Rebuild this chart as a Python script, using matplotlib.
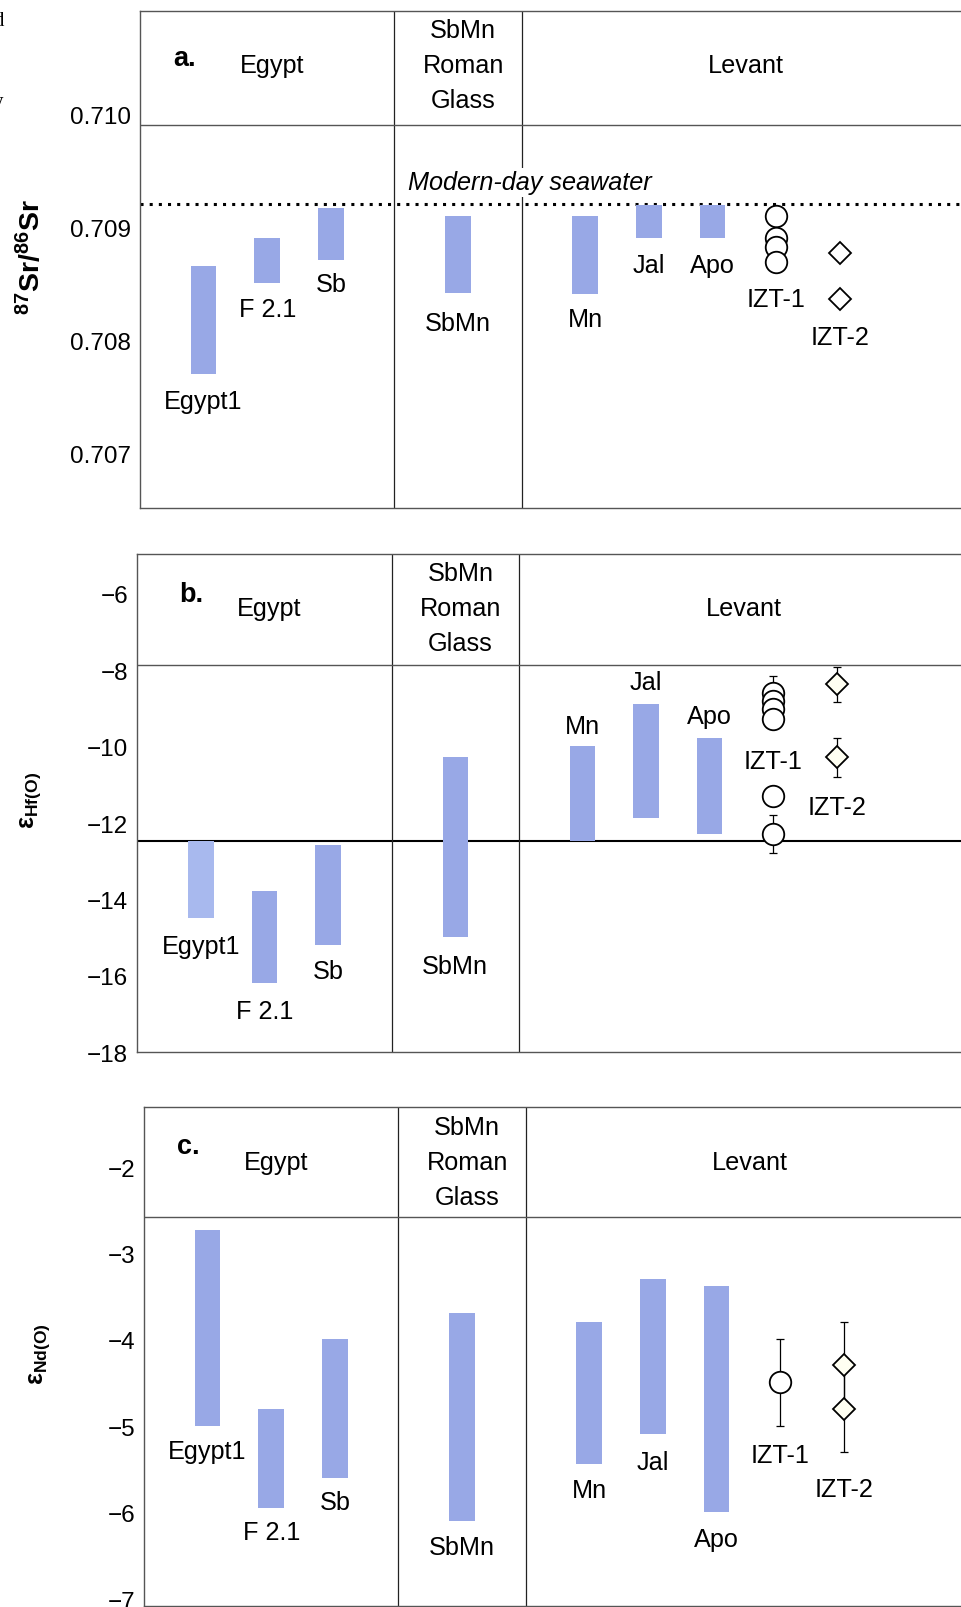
import matplotlib.pyplot as plt
from matplotlib.ticker import FormatStrFormatter

plt.rcParams['font.family'] = ['Liberation Sans', 'DejaVu Sans']
plt.rcParams['mathtext.fontset'] = 'custom'
plt.rcParams['mathtext.rm'] = 'Liberation Sans'
plt.rcParams['mathtext.it'] = 'Liberation Sans:italic'
plt.rcParams['mathtext.bf'] = 'Liberation Sans:bold'

# sample names: seven ranges (bars) + two single-glass series
sample_names = ['Egypt1', 'F 2.1', 'Sb', 'SbMn', 'Mn', 'Jal', 'Apo', 'IZT-1', 'IZT-2']
group_names = ['Egypt', 'SbMn\nRoman\nGlass', 'Levant']

# 87Sr/86Sr ranges
sr_low = [0.70771, 0.70851, 0.70871, 0.70842, 0.70841, 0.70891, 0.70891]
sr_high = [0.70866, 0.70891, 0.70917, 0.70910, 0.70910, 0.70920, 0.70920]
izt1_sr = [0.70910, 0.70891, 0.70883, 0.70869]
izt2_sr = [0.70877, 0.70837]
seawater_sr = 0.70921

# eHf(O) ranges
hf_low = [-14.49, -16.19, -15.19, -14.99, -12.48, -11.87, -12.29]
hf_high = [-12.48, -13.79, -12.58, -10.28, -9.98, -8.87, -9.78]
izt1_hf = [-8.6, -8.8, -9.0, -9.28, -11.28, -12.29]
izt1_hf_err = [0.45, 0, 0, 0, 0, 0.5]
izt2_hf = [-8.37, -10.28]
izt2_hf_err = [0.46, 0.5]
hf_split = -12.48

# eNd(O) ranges
nd_low = [-4.99, -5.94, -5.60, -6.10, -5.44, -5.09, -5.99]
nd_high = [-2.73, -4.80, -3.99, -3.69, -3.79, -3.29, -3.38]
izt1_nd = [-4.49]
izt1_nd_err = [0.5]
izt2_nd = [-4.29, -4.80]
izt2_nd_err = [0.5, 0.5]

# layout
bar_x = [1, 2, 3, 5, 7, 8, 9]
izt1_x, izt2_x = 10, 11
dividers = [4, 6]
group_x = [2.07, 5.08, 9.53]
XMAX = 13.2
BAR_COLOR = '#98a8e6'
FS = 18.2
LINE_STEP = 25.2  # points between header lines

W, H = 962, 1608
fig = plt.figure(figsize=(W / 100, H / 100), dpi=100)


def make_axes(left, top, bottom):
    width = XMAX * 63.6
    ax = fig.add_axes([left / W, 1 - bottom / H, width / W, (bottom - top) / H])
    for s in ['left', 'top', 'bottom']:
        ax.spines[s].set_color('#555555')
        ax.spines[s].set_linewidth(1.0)
    ax.spines['right'].set_visible(False)
    ax.set_xlim(0, XMAX)
    ax.set_xticks([])
    ax.tick_params(axis='y', length=0, pad=6.5, labelsize=17.5)
    return ax


def draw_panel(ax, low, high, izt1, izt1_err, izt2, izt2_err, label_y,
               header_y, group_y, tag, tag_pos, diamond_fc, colors=None):
    for d in dividers:
        ax.axvline(d, color='#222222', lw=0.9, zorder=1)
    ax.axhline(header_y, color='#555555', lw=1.0, zorder=1)

    colors = colors or [BAR_COLOR] * len(bar_x)
    heights = [h - l for l, h in zip(low, high)]
    ax.bar(bar_x, heights, bottom=low, width=0.4, color=colors, zorder=2)

    if izt1_err is not None:
        ax.errorbar([izt1_x] * len(izt1), izt1, yerr=izt1_err, fmt='none',
                    ecolor='black', elinewidth=0.9, capsize=2.6, capthick=0.9, zorder=3)
    ax.plot([izt1_x] * len(izt1), izt1, 'o', ms=15.5, mfc='white', mec='black',
            mew=1.3, zorder=4)
    if izt2_err is not None:
        ax.errorbar([izt2_x] * len(izt2), izt2, yerr=izt2_err, fmt='none',
                    ecolor='black', elinewidth=0.9, capsize=2.6, capthick=0.9, zorder=3)
    ax.plot([izt2_x] * len(izt2), izt2, 'D', ms=11.3, mfc=diamond_fc, mec='black',
            mew=1.3, zorder=4)

    for name, x, y in zip(sample_names, bar_x + [izt1_x, izt2_x], label_y):
        ax.text(x, y, name, ha='center', va='center', fontsize=FS, zorder=5)

    # group headers, multi-line ones centred on the middle line
    for name, x in zip(group_names, group_x):
        lines = name.split('\n')
        mid = (len(lines) - 1) / 2
        for i, line in enumerate(lines):
            ax.annotate(line, (x, group_y), xytext=(0, (mid - i) * LINE_STEP),
                        textcoords='offset points', ha='center', va='center',
                        fontsize=FS)
    ax.text(tag_pos[0], tag_pos[1], tag, ha='center', va='center',
            fontsize=19.5, fontweight='bold')


# a. strontium
ax_a = make_axes(140, 11.7, 509)
ax_a.set_ylim(0.706523, 0.710912)
ax_a.set_yticks([0.707, 0.708, 0.709, 0.710])
ax_a.yaxis.set_major_formatter(FormatStrFormatter('%.3f'))
ax_a.axhline(seawater_sr, color='black', lw=2.2, ls=(0, (1, 2)), zorder=2)
ax_a.text(6.13, 0.709397, 'Modern-day seawater', style='italic', ha='center',
          va='center', fontsize=FS, zorder=3,
          bbox=dict(fc='white', ec='none', pad=2))
draw_panel(ax_a, sr_low, sr_high, izt1_sr, None, izt2_sr, None,
           [0.70747, 0.70828, 0.70850, 0.708155, 0.70819, 0.70867, 0.70867,
            0.708367, 0.708034],
           0.7099, 0.710435, 'a.', (0.70, 0.710492), 'white')
ax_a.set_ylabel(r'$^{\mathbf{87}}\mathbf{Sr/}^{\mathbf{86}}\mathbf{Sr}$', fontsize=20.5)
ax_a.yaxis.set_label_coords(-0.112, 0.507)

# b. hafnium
ax_b = make_axes(137.3, 555, 1053.3)
ax_b.set_ylim(-18, -4.955)
ax_b.set_yticks(range(-18, -5, 2))
ax_b.axhline(hf_split, color='black', lw=1.5, zorder=1)
hf_colors = ['#a8b9ee'] + [BAR_COLOR] * 6
draw_panel(ax_b, hf_low, hf_high, izt1_hf, izt1_hf_err, izt2_hf, izt2_hf_err,
           [-15.21, -16.91, -15.86, -15.73, -9.45, -8.31, -9.19, -10.37, -11.59],
           -7.87, -6.38, 'b.', (0.855, -6.0), '#fffff2', hf_colors)
ax_b.set_ylabel(r'$\mathbf{ε_{Hf(O)}}$', fontsize=18)
ax_b.yaxis.set_label_coords(-0.112, 0.508)

# c. neodymium
ax_c = make_axes(144, 1108.3, 1606.7)
ax_c.set_ylim(-7.075, -1.307)
ax_c.set_yticks(range(-7, -1))
draw_panel(ax_c, nd_low, nd_high, izt1_nd, izt1_nd_err, izt2_nd, izt2_nd_err,
           [-5.29, -6.22, -5.88, -6.40, -5.74, -5.41, -6.30, -5.33, -5.72],
           -2.573, -1.94, 'c.', (0.70, -1.75), '#fffff2')
ax_c.set_ylabel(r'$\mathbf{ε_{Nd(O)}}$', fontsize=18)
ax_c.yaxis.set_label_coords(-0.109, 0.507)

# bits of neighbouring page text at the left edge
fig.text(4 / W, 1 - 22 / H, 'd', ha='right', va='center',
         family='Liberation Serif', fontsize=15)
fig.text(3 / W, 1 - 102 / H, 'y', ha='right', va='center',
         family='Liberation Serif', fontsize=15)

fig.savefig('out.png', dpi=100)
